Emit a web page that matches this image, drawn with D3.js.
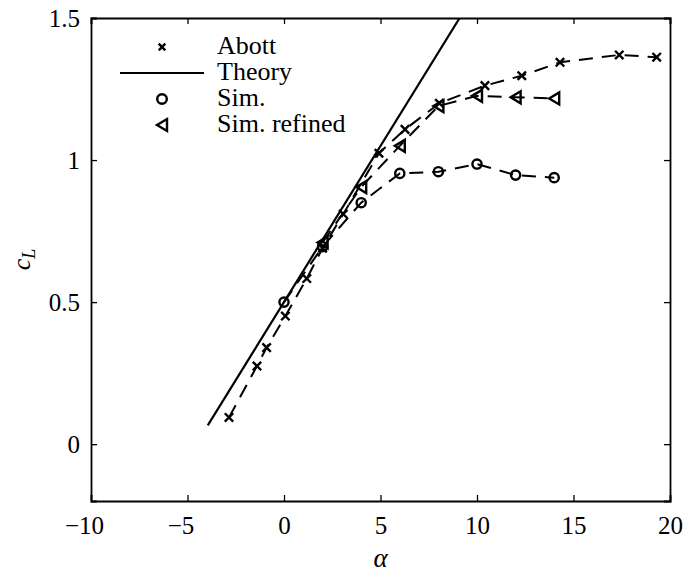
<!DOCTYPE html>
<meta charset="utf-8">
<style>
body { margin: 0; background: #fff; }
text { font-family: 'Liberation Serif', 'DejaVu Serif', serif; fill: #000; }
.tick text { font-size: 25px; }
.legend text { font-size: 26px; }
.series { fill: none; stroke: #000; stroke-width: 2; stroke-dasharray: 14,9; }
.marker { fill: none; stroke: #000; stroke-width: 2.4; }
</style>
<svg width="685" height="573"></svg>
<script src="https://d3js.org/d3.v7.min.js"></script>
<script>

// Abott experimental data
var alphaAbott = [-2.85, -1.40, -0.90, 0.07, 1.18, 2.0, 3.07, 4.92, 6.27, 8.05, 10.41, 12.32, 14.3, 17.37, 19.31];
var cLAbott    = [0.094, 0.275, 0.34, 0.451, 0.583, 0.69, 0.81, 1.024, 1.108, 1.20, 1.262, 1.297, 1.344, 1.37, 1.362];

// thin airfoil theory line (end points)
var alphaTheory = [-3.95, 9.1];
var cLTheory    = [0.066, 1.5];

// simulation
var alphaSim = [0, 2, 4, 6, 8, 10, 12, 14];
var cLSim    = [0.50, 0.695, 0.85, 0.953, 0.959, 0.986, 0.947, 0.938];

// simulation, refined mesh
var alphaRefined = [2, 4, 6, 8, 10, 12, 14];
var cLRefined    = [0.71, 0.905, 1.05, 1.19, 1.226, 1.221, 1.217];

var xTicks = [-10, -5, 0, 5, 10, 15, 20];
var yTicks = [0, 0.5, 1, 1.5];
var yTickLabels = ["0", "0.5", "1", "1.5"];

var svg = d3.select("svg"),
    plot = {left: 91, right: 670, top: 18, bottom: 501};

var x = d3.scaleLinear().domain([-10, 20]).range([plot.left, plot.right]);
var y = d3.scaleLinear().domain([-0.2, 1.5]).range([plot.bottom, plot.top]);

svg.append("clipPath").attr("id", "clip")
  .append("rect")
    .attr("x", plot.left).attr("y", plot.top)
    .attr("width", plot.right - plot.left).attr("height", plot.bottom - plot.top);

function zip(a, b) { return a.map(function(v, i) { return [v, b[i]]; }); }

var line = d3.line().x(function(d) { return x(d[0]); }).y(function(d) { return y(d[1]); });

var marks = svg.append("g").attr("clip-path", "url(#clip)");

var crossPath = function(s) { return "M" + -s + "," + -s + "L" + s + "," + s + "M" + -s + "," + s + "L" + s + "," + -s; };
var triPath = function(s) { return "M" + (-s) + ",0L" + s + "," + (-s * 1.2) + "L" + s + "," + (s * 1.2) + "Z"; };

// theory
marks.append("path")
    .datum(zip(alphaTheory, cLTheory))
    .attr("d", line)
    .attr("fill", "none").attr("stroke", "#000").attr("stroke-width", 2.2);

// dashed series
[zip(alphaAbott, cLAbott), zip(alphaSim, cLSim), zip(alphaRefined, cLRefined)].forEach(function(s) {
  marks.append("path").datum(s).attr("class", "series").attr("d", line);
});

marks.selectAll(".abott").data(zip(alphaAbott, cLAbott)).enter().append("path")
    .attr("class", "marker").attr("d", crossPath(4.2))
    .attr("transform", function(d) { return "translate(" + x(d[0]) + "," + y(d[1]) + ")"; });

marks.selectAll(".sim").data(zip(alphaSim, cLSim)).enter().append("circle")
    .attr("class", "marker").attr("r", 4.6)
    .attr("cx", function(d) { return x(d[0]); })
    .attr("cy", function(d) { return y(d[1]); });

marks.selectAll(".ref").data(zip(alphaRefined, cLRefined)).enter().append("path")
    .attr("class", "marker").attr("d", triPath(5))
    .attr("transform", function(d) { return "translate(" + x(d[0]) + "," + y(d[1]) + ")"; });

// axes, ticks pointing inward on all four sides
var tickLen = 6;
var gx = svg.append("g")
    .attr("transform", "translate(0," + plot.bottom + ")")
    .call(d3.axisBottom(x).tickValues(xTicks).tickSize(-tickLen).tickPadding(0)
      .tickFormat(function(d) { return Math.abs(d); }));
svg.append("g")
    .attr("transform", "translate(0," + plot.top + ")")
    .call(d3.axisTop(x).tickValues(xTicks).tickSize(-tickLen).tickFormat(""));
svg.append("g")
    .attr("transform", "translate(" + plot.left + ",0)")
    .call(d3.axisLeft(y).tickValues(yTicks).tickSize(-tickLen).tickPadding(11)
      .tickFormat(function(d, i) { return yTickLabels[i]; }));
svg.append("g")
    .attr("transform", "translate(" + plot.right + ",0)")
    .call(d3.axisRight(y).tickValues(yTicks).tickSize(-tickLen).tickFormat(""));

svg.selectAll(".domain").attr("stroke", "#000").attr("stroke-width", 1.8);
svg.selectAll(".tick line").attr("stroke", "#000").attr("stroke-width", 1.3);
svg.selectAll(".tick text").attr("font-family", null).attr("font-size", null).attr("fill", "#000");

// x labels: number centered on the tick, minus sign hanging to the left
gx.selectAll(".tick text").attr("y", 33).attr("dy", 0);
gx.selectAll(".tick").each(function(d) {
  if (d >= 0) return;
  var t = d3.select(this).select("text");
  var w = t.node().getComputedTextLength();
  d3.select(this).append("text")
      .attr("x", -w / 2).attr("y", 33)
      .attr("text-anchor", "end")
      .attr("fill", "#000")
      .text("\u2212");
});

// axis titles
svg.append("text")
    .attr("x", (plot.left + plot.right) / 2).attr("y", 567)
    .attr("text-anchor", "middle")
    .attr("fill", "#000")
    .style("font-size", "27px").style("font-style", "italic")
    .text("\u03b1");

var yl = svg.append("text")
    .attr("transform", "translate(30," + ((plot.top + plot.bottom) / 2) + ") rotate(-90)")
    .attr("text-anchor", "middle")
    .attr("fill", "#000")
    .style("font-size", "26px").style("font-style", "italic");
yl.append("tspan").text("c");
yl.append("tspan").attr("dy", 5).style("font-size", "18px").text("L");

// legend
var legend = svg.append("g").attr("class", "legend");
var legendLabels = ["Abott", "Theory", "Sim.", "Sim. refined"];
var legendY = [47, 73, 99, 125];
var markX = 162;

legend.append("path").attr("class", "marker").attr("d", crossPath(3.3))
    .attr("transform", "translate(" + markX + "," + legendY[0] + ")");
legend.append("line")
    .attr("x1", 120).attr("x2", 204).attr("y1", legendY[1]).attr("y2", legendY[1])
    .attr("stroke", "#000").attr("stroke-width", 2.2);
legend.append("circle").attr("class", "marker").attr("r", 4.8)
    .attr("cx", markX).attr("cy", legendY[2]);
legend.append("path").attr("class", "marker").attr("d", triPath(5))
    .attr("transform", "translate(" + markX + "," + legendY[3] + ")");

legend.selectAll(".lab").data(legendLabels).enter().append("text")
    .attr("x", 217)
    .attr("y", function(d, i) { return legendY[i] + 7; })
    .attr("fill", "#000")
    .text(function(d) { return d; });

</script>
